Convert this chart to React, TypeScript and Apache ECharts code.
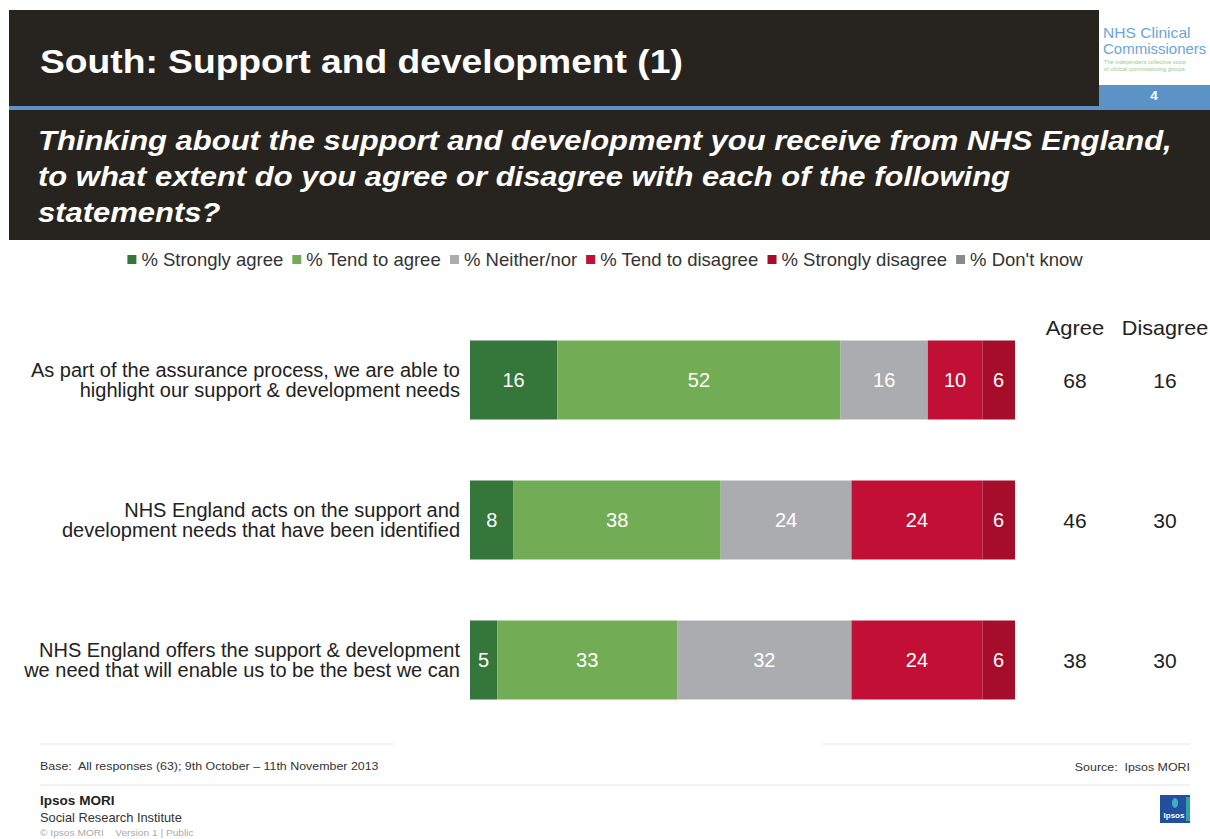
import React, { useEffect, useRef } from "react";
import * as echarts from "echarts";

const categories = [
  "As part of the assurance process, we are able to\nhighlight our support & development needs",
  "NHS England acts on the support and\ndevelopment needs that have been identified",
  "NHS England offers the support & development\nwe need that will enable us to be the best we can",
];
const seriesNames = [
  "% Strongly agree",
  "% Tend to agree",
  "% Neither/nor",
  "% Tend to disagree",
  "% Strongly disagree",
  "% Don't know",
];
const stronglyAgree = [16, 8, 5];
const tendToAgree = [52, 38, 33];
const neither = [16, 24, 32];
const tendToDisagree = [10, 24, 24];
const stronglyDisagree = [6, 6, 6];
const dontKnow = [0, 0, 0];
const colors = ["#35773a", "#72ad55", "#abacaf", "#c20f35", "#a50d2b", "#8a8a8a"];

const title = "South: Support and development (1)";
const questionLines = [
  "Thinking about the support and development you receive from NHS England,",
  "to what extent do you agree or disagree with each of the following",
  "statements?",
];

const FONT = "'Liberation Sans', Arial, Helvetica, sans-serif";
const SX = 1.13;

export default function App() {
  const ref = useRef<HTMLDivElement>(null);
  useEffect(() => {
    document.body.style.margin = "0";
    const chart = echarts.init(ref.current!, null, { renderer: "svg" });
    const values = [stronglyAgree, tendToAgree, neither, tendToDisagree, stronglyDisagree, dontKnow];
    const agree = stronglyAgree.map((v, i) => v + tendToAgree[i]);
    const disagree = tendToDisagree.map((v, i) => v + stronglyDisagree[i]);

    const barSeries = seriesNames.map((name, k) => ({
      name,
      type: "bar",
      stack: "total",
      xAxisIndex: 0,
      yAxisIndex: 0,
      barWidth: 79,
      itemStyle: { color: colors[k] },
      label: {
        show: true,
        position: "inside",
        color: "#ffffff",
        fontSize: 20,
        fontFamily: FONT,
        formatter: (p: any) => (p.value ? String(p.value) : ""),
      },
      data: values[k],
    }));

    const textSeries = (vals: number[], xpos: number) => ({
      type: "scatter",
      xAxisIndex: 1,
      yAxisIndex: 1,
      symbolSize: 1,
      itemStyle: { color: "#ffffff", opacity: 1 },
      silent: true,
      label: {
        show: true,
        position: "inside",
        color: "#222222",
        fontSize: 21,
        fontFamily: FONT,
        formatter: (p: any) => String(p.value[2]),
      },
      data: vals.map((v, i) => [xpos, i, v]),
    });

    const txt = (x: number, y: number, text: string, style: any, sx = SX) => ({
      type: "text",
      x,
      y,
      scaleX: sx,
      style: { text, fontFamily: FONT, verticalAlign: "middle", ...style },
    });

    chart.setOption({
      animation: false,
      textStyle: { fontFamily: FONT },
      color: colors,
      legend: {
        data: seriesNames,
        top: 245,
        left: "center",
        itemWidth: 9,
        itemHeight: 9,
        itemGap: 9,
        icon: "rect",
        textStyle: { fontSize: 18.5, color: "#333333", fontFamily: FONT },
      },
      grid: [
        { left: 470, width: 545, top: 310, height: 420 },
        { left: 1030, width: 180, top: 310, height: 420 },
      ],
      xAxis: [
        { type: "value", gridIndex: 0, min: 0, max: 100, show: false },
        { type: "value", gridIndex: 1, min: 0, max: 2, show: false },
      ],
      yAxis: [
        {
          type: "category",
          gridIndex: 0,
          data: categories,
          inverse: true,
          axisLine: { show: false },
          axisTick: { show: false },
          axisLabel: {
            fontSize: 20,
            lineHeight: 20,
            color: "#222222",
            margin: 10,
            fontFamily: FONT,
          },
        },
        {
          type: "category",
          gridIndex: 1,
          data: categories,
          inverse: true,
          show: false,
        },
      ],
      series: [...barSeries, textSeries(agree, 0.5), textSeries(disagree, 1.5)],
      graphic: [
        // header band
        { type: "rect", shape: { x: 9, y: 10, width: 1090, height: 96 }, style: { fill: "#27241f" } },
        { type: "rect", shape: { x: 9, y: 106, width: 1201, height: 4 }, style: { fill: "#5b93c7" } },
        { type: "rect", shape: { x: 1099, y: 85, width: 111, height: 22 }, style: { fill: "#5b93c7" } },
        txt(1154, 96, "4", { fill: "#ffffff", fontSize: 12, fontWeight: "bold", align: "center" }),
        txt(1103, 33, "NHS Clinical", { fill: "#6aa6d8", fontSize: 15 }, 1.04),
        txt(1103, 48, "Commissioners", { fill: "#6aa6d8", fontSize: 15 }, 1.0),
        txt(1104, 62, "The independent collective voice", { fill: "#9cc88a", fontSize: 5 }),
        txt(1104, 69, "of clinical commissioning groups", { fill: "#9cc88a", fontSize: 5 }),
        txt(40, 61, title, { fill: "#ffffff", fontSize: 33, fontWeight: "bold" }, 1.128),
        // question box
        { type: "rect", shape: { x: 9, y: 110, width: 1201, height: 130 }, style: { fill: "#27241f" } },
        ...questionLines.map((t, i) =>
          txt(38, 141 + i * 36, t, { fill: "#ffffff", fontSize: 27, fontWeight: "bold", fontStyle: "italic" }, 1.147)
        ),
        // column headers
        txt(1075, 328, "Agree", { fill: "#222222", fontSize: 20, align: "center" }, 1.1),
        txt(1165, 328, "Disagree", { fill: "#222222", fontSize: 20, align: "center" }, 1.08),
        // footer
        { type: "line", shape: { x1: 40, y1: 744, x2: 393, y2: 744 }, style: { stroke: "#e6e6e6", lineWidth: 1 } },
        { type: "line", shape: { x1: 823, y1: 744, x2: 1190, y2: 744 }, style: { stroke: "#e6e6e6", lineWidth: 1 } },
        { type: "line", shape: { x1: 40, y1: 785, x2: 1190, y2: 785 }, style: { stroke: "#e6e6e6", lineWidth: 1 } },
        txt(40, 766, "Base:  All responses (63); 9th October \u2013 11th November 2013", { fill: "#333333", fontSize: 11 }),
        txt(1190, 767, "Source:  Ipsos MORI", { fill: "#333333", fontSize: 11, align: "right" }),
        txt(40, 801, "Ipsos MORI", { fill: "#222222", fontSize: 12, fontWeight: "bold" }),
        txt(40, 818, "Social Research Institute", { fill: "#333333", fontSize: 12 }, 1.07),
        txt(40, 833, "\u00a9 Ipsos MORI    Version 1 | Public", { fill: "#aaaaaa", fontSize: 9 }),
        // Ipsos logo
        { type: "rect", shape: { x: 1160, y: 795, width: 30, height: 28 }, style: { fill: "#23509e" } },
        { type: "rect", shape: { x: 1186, y: 797, width: 4, height: 24 }, style: { fill: "#2fa3a8" } },
        { type: "ellipse", shape: { cx: 1175, cy: 803, rx: 3, ry: 5 }, style: { fill: "#3fb0c0" } },
        txt(1174, 815, "Ipsos", { fill: "#ffffff", fontSize: 8, fontWeight: "bold", align: "center" }, 1),
      ],
    });
    return () => chart.dispose();
  }, []);
  return (
    <div
      ref={ref}
      style={{ position: "absolute", left: 0, top: 0, width: 1210, height: 839, background: "#ffffff" }}
    />
  );
}
